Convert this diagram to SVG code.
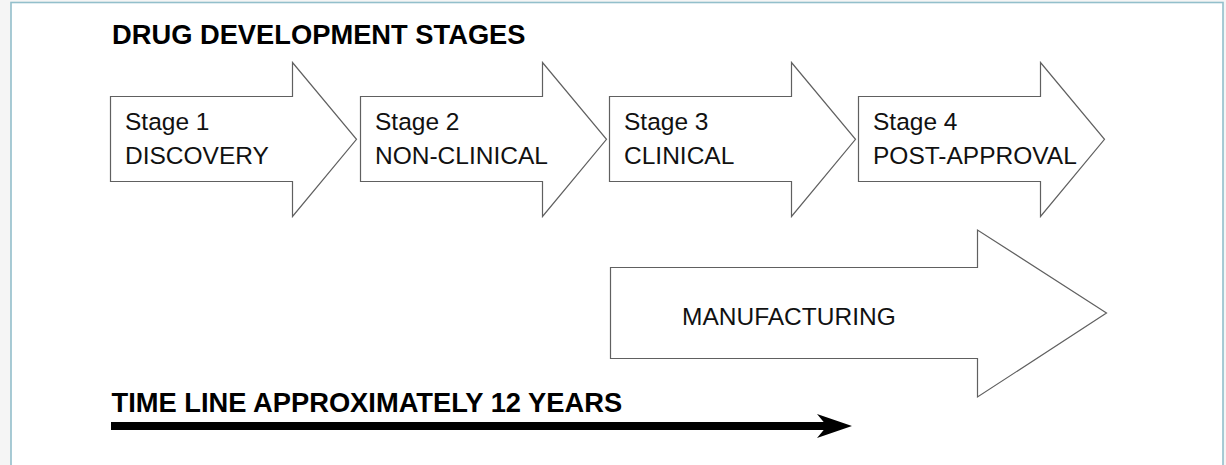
<svg xmlns="http://www.w3.org/2000/svg" width="1226" height="465" viewBox="0 0 1226 465">
<style>
.arrow{fill:#ffffff;stroke:#606060;stroke-width:1.2;stroke-linejoin:miter}
.lbl{font-family:"Liberation Sans",Arial,Helvetica,sans-serif;font-size:24.5px;fill:#111111}
.head{font-family:"Liberation Sans",Arial,Helvetica,sans-serif;font-size:27.3px;font-weight:bold;fill:#000000}
</style>
<defs>
<marker id="tl" markerUnits="userSpaceOnUse" markerWidth="40" markerHeight="30" refX="10" refY="12" orient="auto" viewBox="0 0 40 30">
<path d="M0,0 L35,12 L0,24 L10,12 Z" fill="#000000"/>
</marker>
</defs>
<rect x="0" y="0" width="1226" height="465" fill="#f5f5f5"/>
<rect x="11" y="2.5" width="1212" height="500" fill="#ffffff" stroke="#93bfcb" stroke-width="1.6"/>
<g id="title"><text class="head" x="112" y="44">DRUG DEVELOPMENT STAGES</text></g>
<g id="stage1">
<path class="arrow" d="M110.5,96.5 H292.5 V62.5 L356.5,139.3 L292.5,216.5 V181.5 H110.5 Z"/>
<text class="lbl" x="125" y="130">Stage 1</text>
<text class="lbl" x="125" y="163.5">DISCOVERY</text>
</g>
<g id="stage2">
<path class="arrow" d="M360.5,96.5 H542.5 V62.5 L606.5,139.3 L542.5,216.5 V181.5 H360.5 Z"/>
<text class="lbl" x="375" y="130">Stage 2</text>
<text class="lbl" x="375" y="163.5">NON-CLINICAL</text>
</g>
<g id="stage3">
<path class="arrow" d="M609.5,96.5 H791.5 V62.5 L855.5,139.3 L791.5,216.5 V181.5 H609.5 Z"/>
<text class="lbl" x="624" y="130">Stage 3</text>
<text class="lbl" x="624" y="163.5">CLINICAL</text>
</g>
<g id="stage4">
<path class="arrow" d="M858.5,96.5 H1040.5 V62.5 L1104.5,139.3 L1040.5,216.5 V181.5 H858.5 Z"/>
<text class="lbl" x="873" y="130">Stage 4</text>
<text class="lbl" x="873" y="163.5">POST-APPROVAL</text>
</g>
<g id="manufacturing">
<path class="arrow" d="M610.5,267.5 H977.5 V230 L1106.5,313 L977.5,397 V358.5 H610.5 Z"/>
<text class="lbl" x="682" y="325">MANUFACTURING</text>
</g>
<g id="timeline-label"><text class="head" x="111.5" y="411.5">TIME LINE APPROXIMATELY 12 YEARS</text></g>
<g id="connectors">
<line x1="111" y1="426" x2="827" y2="426" stroke="#000000" stroke-width="8" marker-end="url(#tl)"/>
</g>
</svg>
